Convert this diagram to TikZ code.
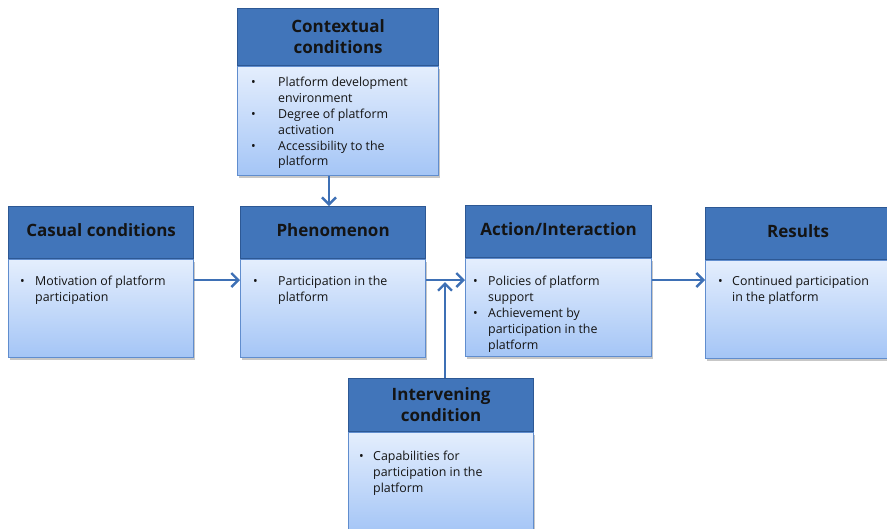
\documentclass[tikz,border=0pt]{standalone}
\usepackage{fontspec}
\setmainfont{Open Sans}
\usetikzlibrary{arrows.meta,shadows}

\definecolor{hdrfill}{RGB}{65,117,186}
\definecolor{hdrline}{RGB}{45,88,148}
\definecolor{bodytop}{RGB}{228,238,253}
\definecolor{bodybot}{RGB}{164,197,246}
\definecolor{bodyline}{RGB}{96,141,206}
\definecolor{arrowc}{RGB}{62,112,181}
\definecolor{inkc}{RGB}{20,20,20}

% bullet item with hanging indent: #1 = indent of the text, #2 = text
\newcommand\bitem[2]{\par\noindent\hangindent=#1\hangafter=1\makebox[#1][l]{\textbullet}#2\par}
% ragged block of body text
\newcommand\btxt[1]{\parbox[t]{180pt}{\raggedright\fontsize{12.4}{15.8}\selectfont #1}}
% single-line heading, lifted a little while keeping its size
\newcommand\headline[1]{\raisebox{2.5pt}[\height][\depth]{#1}}

\tikzset{
  hdr/.style={draw=hdrline, line width=1.2pt, fill=hdrfill, anchor=north west,
    inner sep=0pt, text=inkc, font=\bfseries\fontsize{17}{21}\selectfont,
    align=center, minimum width=185pt},
  bodybox/.style={draw=bodyline, line width=1pt, top color=bodytop, bottom color=bodybot,
    anchor=north west, inner sep=0pt, minimum width=185pt,
    drop shadow={shadow xshift=1.2pt, shadow yshift=-2.2pt, opacity=0.22, fill=black}},
  btext/.style={anchor=north west, inner sep=0pt, text=inkc},
  arr/.style={draw=arrowc, line width=2.6pt,
    -{Straight Barb[length=7pt,width=14pt,line width=2.4pt]}}
}

\begin{document}
\begin{tikzpicture}[x=1pt,y=-1pt]
\useasboundingbox (0,0) rectangle (887,528);
\clip (0,0) rectangle (887,528);

% contextual conditions
\node[hdr, minimum width=201pt, minimum height=57pt] (ctxh) at (237,8) {Contextual\\conditions};
\node[bodybox, minimum width=201pt, minimum height=109pt] (ctxb) at (ctxh.south west) {};
\node[btext] (ctxt) at ([xshift=14pt,yshift=-11pt]ctxb.north west)
  {\btxt{\bitem{27pt}{Platform development\newline environment}%
   \bitem{27pt}{Degree of platform\newline activation}%
   \bitem{27pt}{Accessibility to the\newline platform}}};

% casual conditions
\node[hdr, minimum height=52pt] (cash) at (8,206) {\headline{Casual conditions}};
\node[bodybox, minimum height=98pt] (casb) at (cash.south west) {};
\node[btext] (cast) at ([xshift=12pt,yshift=-17pt]casb.north west)
  {\btxt{\bitem{15pt}{Motivation of platform\newline participation}}};

% phenomenon
\node[hdr, minimum height=52pt] (phenh) at (240,206) {\headline{Phenomenon}};
\node[bodybox, minimum height=98pt] (phenb) at (phenh.south west) {};
\node[btext] (phent) at ([xshift=13pt,yshift=-17pt]phenb.north west)
  {\btxt{\bitem{25pt}{Participation in the\newline platform}}};

% action / interaction
\node[hdr, minimum width=186pt, minimum height=52pt] (acth) at (465,205) {\headline{Action/Interaction}};
\node[bodybox, minimum width=186pt, minimum height=98pt] (actb) at (acth.south west) {};
\node[btext] (actt) at ([xshift=8pt,yshift=-18pt]actb.north west)
  {\btxt{\bitem{15pt}{Policies of platform\newline support}%
   \bitem{15pt}{Achievement by\newline participation in the\newline platform}}};

% results
\node[hdr, minimum height=52pt] (resh) at (705,207) {\headline{Results}};
\node[bodybox, minimum height=98pt] (resb) at (resh.south west) {};
\node[btext] (rest) at ([xshift=13pt,yshift=-16pt]resb.north west)
  {\btxt{\bitem{14pt}{Continued participation\newline in the platform}}};

% intervening condition
\node[hdr, minimum width=185pt, minimum height=53pt] (inth) at (348,378) {Intervening\\condition};
\node[bodybox, minimum height=100pt] (intb) at (inth.south west) {};
\node[btext] (intt) at ([xshift=11pt,yshift=-19pt]intb.north west)
  {\btxt{\bitem{14pt}{Capabilities for\newline participation in the\newline platform}}};

% connectors
\coordinate (join) at (445,282);
\draw[arr] (ctxb.south -| 329,0) -- (phenh.north -| 329,0);
\draw[arr] (casb.east |- 0,280) -- (phenb.west |- 0,280);
\draw[arr] (phenb.east |- 0,280) -- (actb.west |- 0,280);
\draw[arr] (inth.north -| join) -- (join);
\draw[arr] (actb.east |- 0,280) -- (resb.west |- 0,280);
\end{tikzpicture}
\end{document}
